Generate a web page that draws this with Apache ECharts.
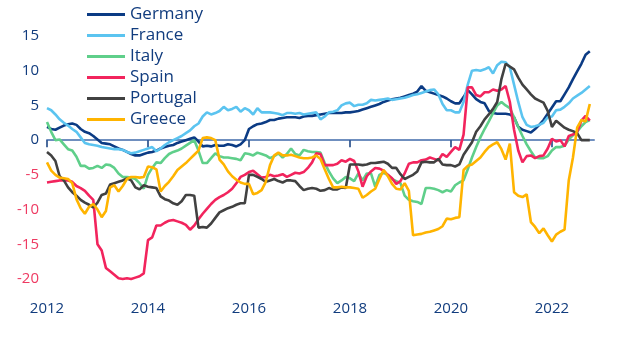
<!DOCTYPE html>
<html>
<head>
<meta charset="utf-8">
<script src="https://cdn.jsdelivr.net/npm/echarts@6/dist/echarts.min.js"></script>
<style>
  html, body { margin: 0; padding: 0; background: #ffffff; }
  #chart { width: 623px; height: 340px; }
</style>
</head>
<body>
<div id="chart"></div>
<script>
// Monthly readings, Jan 2012 onwards; the axis runs one month past the last reading.
const startYear = 2012;
const axisMonths = 131;
const yearTicks = ['2012', '2014', '2016', '2018', '2020', '2022'];

const germany = [
  1.9, 1.6, 1.5, 1.8, 2.1, 2.3, 2.4, 2.2, 1.6, 1.2, 1.0, 0.6,
  0.1, -0.4, -0.5, -0.6, -0.9, -1.2, -1.4, -1.7, -2.0, -2.2, -2.2, -2.0,
  -1.8, -1.7, -1.5, -1.2, -1.0, -0.8, -0.7, -0.4, -0.2, 0.0, 0.2, 0.4,
  -0.2, -0.9, -0.8, -0.9, -0.7, -0.8, -0.8, -0.6, -0.7, -0.9, -0.6, 0.0,
  1.6, 2.0, 2.3, 2.4, 2.6, 2.9, 2.9, 3.1, 3.2, 3.3, 3.3, 3.3,
  3.2, 3.4, 3.5, 3.5, 3.6, 3.7, 3.8, 3.9, 3.9, 3.9, 3.9, 4.0,
  4.0, 4.1, 4.2, 4.4, 4.6, 4.8, 5.0, 5.2, 5.5, 5.7, 5.9, 6.0,
  6.1, 6.3, 6.5, 6.7, 7.0, 7.8, 7.1, 6.9, 6.7, 6.5, 6.3, 6.0,
  5.6, 5.3, 5.3, 6.2, 7.2, 6.6, 5.9, 5.5, 5.3, 4.2, 3.9, 3.8,
  3.8, 3.8, 3.7, 3.3, 1.9, 1.5, 1.3, 1.1, 1.6, 2.2, 2.9, 3.8,
  4.7, 5.6, 5.6, 6.6, 7.6, 8.8, 9.9, 11.0, 12.3, 12.8
];
const france = [
  4.6, 4.3, 3.7, 3.0, 2.5, 2.1, 1.6, 1.2, 0.4, -0.4, -0.6, -0.7,
  -0.8, -1.0, -1.1, -1.2, -1.3, -1.3, -1.4, -1.7, -1.9, -1.8, -1.6, -1.4,
  -1.2, -1.0, -1.6, -1.2, -0.7, -0.3, 0.0, 0.3, 0.6, 1.0, 1.4, 2.0,
  2.4, 3.4, 4.0, 3.7, 3.9, 4.2, 4.8, 4.3, 4.5, 4.8, 4.1, 4.6,
  4.3, 3.7, 4.6, 4.0, 4.0, 4.0, 3.9, 3.8, 3.6, 3.9, 3.9, 3.8,
  3.9, 3.7, 3.8, 3.9, 4.0, 3.0, 3.4, 4.0, 4.1, 4.3, 5.0, 5.3,
  5.4, 4.9, 5.1, 5.1, 5.3, 5.8, 5.7, 5.8, 5.9, 6.0, 5.8, 5.9,
  6.0, 6.1, 6.3, 6.5, 6.6, 6.8, 7.0, 7.2, 7.3, 6.6, 5.2, 4.3,
  4.3, 4.0, 4.0, 5.5, 8.0, 10.0, 10.1, 10.0, 10.2, 10.5, 9.6, 10.8,
  11.3, 11.2, 10.5, 8.0, 5.5, 3.3, 2.2, 1.9, 2.0, 2.2, 2.5, 3.3,
  3.4, 4.3, 4.4, 4.8, 5.3, 6.0, 6.4, 6.8, 7.3, 7.8
];
const italy = [
  2.6, 1.2, 0.0, 0.1, -0.6, -1.3, -1.5, -2.4, -3.7, -3.7, -4.1, -4.0,
  -3.7, -4.0, -3.5, -3.6, -4.0, -4.8, -5.3, -5.3, -5.4, -5.6, -6.2, -7.0,
  -5.0, -4.0, -3.2, -3.3, -2.6, -2.0, -1.7, -1.5, -1.2, -0.8, -0.4, 0.0,
  -1.5, -3.3, -3.3, -2.6, -1.9, -2.3, -2.5, -2.5, -2.6, -2.7, -2.9, -1.9,
  -2.0, -2.2, -1.8, -2.0, -2.2, -2.6, -2.3, -1.9, -2.5, -2.0, -1.2, -2.0,
  -2.2, -1.4, -1.6, -1.7, -1.7, -1.8, -3.3, -4.5, -5.5, -6.2, -5.8, -5.3,
  -5.5, -5.9, -4.8, -5.8, -4.8, -4.8, -6.7, -5.0, -4.7, -5.0, -5.6, -5.9,
  -6.2, -8.0, -8.6, -8.8, -8.9, -9.2, -6.9, -6.9, -7.0, -7.2, -7.5, -7.2,
  -7.4, -6.5, -6.1, -5.8, -4.2, -2.5, -1.0, 0.4, 1.6, 2.7, 3.9, 5.0,
  5.5, 5.0, 4.6, 3.3, 1.9, 0.6, -0.6, -1.6, -2.5, -2.6, -2.6, -2.3,
  -1.5, -1.0, -1.0, -0.8, 0.1, 0.7, 1.2, 2.0, 2.6, 2.9
];
const spain = [
  -6.1, -6.0, -5.9, -5.8, -5.8, -5.8, -6.0, -6.6, -6.9, -7.3, -8.0, -8.6,
  -15.0, -15.9, -18.4, -18.9, -19.4, -19.9, -20.0, -19.9, -20.0, -19.8, -19.6, -19.2,
  -14.4, -14.0, -12.3, -12.3, -11.9, -11.6, -11.5, -11.7, -11.9, -12.2, -12.9, -12.3,
  -11.4, -10.6, -9.9, -9.2, -8.6, -8.2, -7.9, -7.5, -7.0, -6.2, -5.3, -5.0,
  -4.6, -4.4, -4.9, -5.4, -5.3, -5.0, -5.2, -5.1, -4.9, -5.3, -5.0, -4.7,
  -4.8, -4.6, -4.0, -3.2, -1.9, -2.0, -3.6, -3.6, -3.6, -3.4, -2.9, -3.1,
  -2.7, -3.0, -4.5, -6.7, -5.2, -4.5, -4.0, -4.1, -4.4, -5.0, -5.5, -6.3,
  -5.9, -4.8, -3.4, -3.2, -3.2, -2.9, -2.8, -2.5, -2.7, -2.9, -2.0, -2.4,
  -1.7, -1.0, -1.4, 0.8, 7.6, 7.6, 6.5, 6.3, 6.9, 6.9, 7.3, 7.1,
  7.3, 7.8, 5.5, 1.5, -1.5, -3.2, -2.3, -2.2, -2.6, -2.3, -2.2, -1.2,
  0.2, -0.2, 0.0, -0.9, 0.6, 0.8, 1.2, 2.8, 3.5, 2.8
];
const portugal = [
  -1.7, -2.2, -3.0, -5.2, -5.8, -6.8, -7.5, -8.0, -8.6, -9.0, -9.3, -9.7,
  -9.0, -7.9, -7.7, -6.4, -6.2, -6.0, -5.8, -5.5, -5.8, -6.8, -7.1, -6.5,
  -6.7, -6.8, -6.9, -8.1, -8.5, -8.7, -9.1, -9.3, -8.8, -7.9, -7.9, -8.0,
  -12.6, -12.5, -12.6, -12.0, -11.2, -10.4, -10.1, -9.8, -9.6, -9.3, -9.1, -9.1,
  -5.0, -5.0, -5.3, -5.6, -6.0, -5.8, -5.6, -5.9, -6.1, -5.8, -5.8, -5.9,
  -6.6, -7.2, -7.0, -6.9, -7.0, -7.3, -7.2, -6.9, -7.1, -7.1, -6.8, -6.9,
  -3.5, -3.5, -3.5, -3.6, -3.5, -3.3, -3.3, -3.2, -3.1, -3.4, -4.0, -4.0,
  -4.9, -5.6, -5.3, -5.0, -4.5, -3.2, -3.1, -3.2, -3.2, -2.7, -3.5, -3.6,
  -3.6, -3.8, -3.5, -2.1, -1.2, -0.3, 1.2, 2.0, 3.0, 3.7, 4.5, 5.5,
  8.8, 11.0, 10.6, 10.2, 9.0, 8.0, 7.3, 6.6, 6.0, 5.7, 5.4, 4.2,
  1.9, 2.8, 2.3, 1.8, 1.5, 1.3, 1.0, 0.0, 0.0, 0.0
];
const greece = [
  -3.2, -4.4, -5.0, -5.4, -5.5, -5.6, -6.2, -8.5, -9.8, -10.6, -9.6, -9.2,
  -10.0, -11.1, -10.2, -6.8, -6.5, -7.4, -6.6, -5.6, -5.3, -5.3, -5.4, -5.3,
  -3.8, -3.9, -4.2, -7.4, -6.6, -6.0, -5.2, -4.3, -3.8, -3.3, -2.7, -2.1,
  -1.5, 0.3, 0.4, 0.3, 0.0, -2.8, -3.5, -4.5, -5.2, -5.7, -6.1, -6.3,
  -6.3, -7.8, -7.6, -7.2, -6.0, -3.6, -2.2, -1.8, -2.2, -2.2, -2.1, -2.3,
  -2.5, -2.6, -2.6, -2.5, -2.2, -2.7, -4.2, -5.6, -6.8, -6.8, -6.7, -6.8,
  -6.8, -6.9, -7.0, -8.3, -7.9, -7.4, -7.0, -5.6, -4.3, -5.2, -6.3, -7.0,
  -7.1, -6.2, -7.3, -13.7, -13.6, -13.5, -13.3, -13.2, -13.0, -12.8, -12.4, -11.3,
  -11.4, -11.2, -11.1, -4.3, -3.7, -3.5, -3.0, -2.5, -1.7, -1.0, -0.6, -0.3,
  -1.3, -2.8, -0.5, -7.5, -8.0, -8.2, -7.8, -11.8, -12.5, -13.4, -12.7, -13.7,
  -14.6, -13.6, -13.2, -12.9, -5.8, -2.5, 1.8, 2.9, 2.7, 5.2
];

const navy = '#113c7e';
const negRed = '#ee3a62';
const font = '"Open Sans", "Noto Sans", sans-serif';

const months = [];
for (let i = 0; i < axisMonths; i++) {
  const y = startYear + Math.floor(i / 12);
  const m = (i % 12) + 1;
  months.push(y + '-' + String(m).padStart(2, '0'));
}
const isYearTick = (idx, val) => val.endsWith('-01') && yearTicks.includes(val.slice(0, 4));

const countries = [
  { name: 'Germany', data: germany, color: '#0b3b84' },
  { name: 'France', data: france, color: '#5bc4f0' },
  { name: 'Italy', data: italy, color: '#5fcf8a' },
  { name: 'Spain', data: spain, color: '#f2245d' },
  { name: 'Portugal', data: portugal, color: '#414141' },
  { name: 'Greece', data: greece, color: '#ffb400' }
];

const chart = echarts.init(document.getElementById('chart'), null, { renderer: 'canvas' });
chart.setOption({
  animation: false,
  backgroundColor: '#ffffff',
  grid: { left: 47, right: 29, top: 36, bottom: 61, containLabel: false },
  legend: {
    orient: 'vertical',
    left: 82,
    top: 4,
    padding: [0, 5, 5, 5],
    icon: 'rect',
    itemWidth: 38,
    itemHeight: 3,
    itemGap: 0,
    selectedMode: false,
    data: countries.map(c => c.name),
    textStyle: { color: navy, fontSize: 17, lineHeight: 21, fontFamily: font }
  },
  xAxis: {
    type: 'category',
    data: months,
    boundaryGap: false,
    offset: 8,
    axisLine: { show: true, lineStyle: { color: '#6f8fbf', width: 2 } },
    axisTick: { show: true, interval: isYearTick, length: 7, lineStyle: { color: navy, width: 1.5 } },
    axisLabel: {
      interval: isYearTick,
      formatter: v => v.slice(0, 4),
      color: navy,
      fontSize: 15,
      fontFamily: font,
      margin: 14
    },
    splitLine: { show: false }
  },
  yAxis: {
    type: 'value',
    min: -20,
    max: 15,
    interval: 5,
    axisLine: { show: false },
    axisTick: { show: false },
    splitLine: { show: false },
    axisLabel: {
      color: v => (v < 0 ? negRed : navy),
      fontSize: 15,
      fontFamily: font,
      margin: 8
    }
  },
  series: countries.map(c => ({
    name: c.name,
    type: 'line',
    data: c.data,
    symbol: 'none',
    clip: false,
    color: c.color,
    lineStyle: { color: c.color, width: 2.6 },
    emphasis: { disabled: true }
  }))
});
</script>
</body>
</html>
